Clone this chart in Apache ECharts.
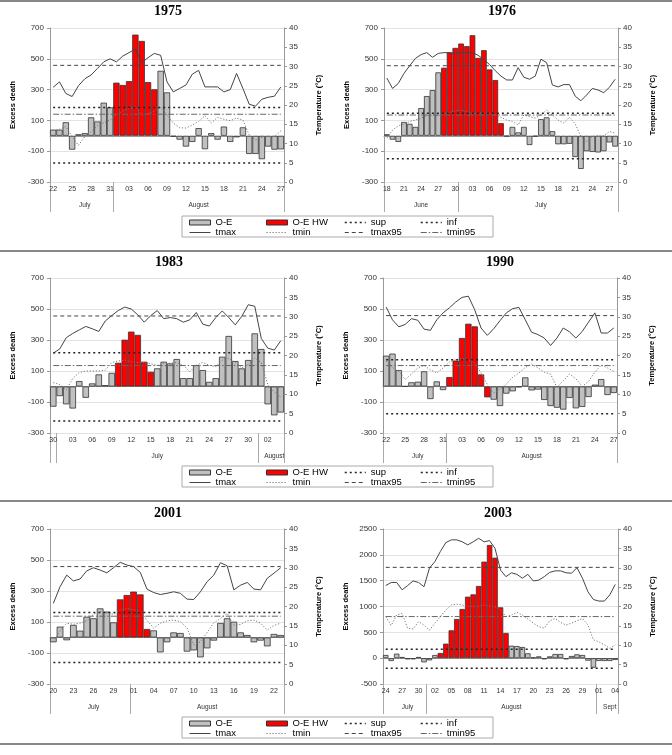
<!DOCTYPE html>
<html><head><meta charset="utf-8">
<script src="https://cdn.jsdelivr.net/npm/echarts@6/dist/echarts.min.js"></script>
<style>html,body{margin:0;padding:0;background:#fff}#c{width:672px;height:755px}</style>
</head><body><div id="c"></div>
<script>
// ---------------- DATA ----------------
const MONTH_NAMES = {'06':'June','07':'July','08':'August','09':'Sept'};
const legendRows = [['O-E','tmax'],['O-E HW','tmin'],['sup','tmax95'],['inf','tmin95']];

// 1975
const start1975 = [1975,7,22];
const hw1975 = ['1975-08-01','1975-08-07'];
const oe1975 = [40,40,88,-90,10,17,120,93,215,185,345,330,355,657,616,349,302,422,282,-5,-25,-70,-40,50,-87,17,-25,60,-40,-10,55,-118,-118,-152,-70,-90,-88];
const tmax1975 = [24.6,26,23,22.2,25,26.8,27.8,29.5,31.2,32,31.2,32.7,33.6,34.5,31,32.3,33.4,32.9,26,23.4,24.3,25.2,28,29,24.7,24.7,24.7,23.4,24,28.2,24.3,20.2,19.7,21.5,22,22.3,24.7];
const tmin1975 = [13.4,13.7,14.4,11.8,9.5,11.8,13.1,14.6,15.4,16.1,17.4,18.5,19.1,19.6,17.4,17.8,18.4,19.4,17.4,15.3,14.1,14,14.8,15.7,17.2,15.3,16.8,16.3,15.9,16.6,16.1,12.2,10.9,11.6,11.8,11.8,13.3];
const thr1975 = {sup:183, inf:-177, tmax95:30.3, tmin95:17.6};

// 1976
const start1976 = [1976,6,18];
const hw1976 = ['1976-06-28','1976-07-08'];
const oe1976 = [10,-25,-40,90,78,58,180,258,297,412,442,541,571,599,582,653,506,556,431,362,82,-3,58,22,58,-60,-4,108,120,30,-55,-55,-52,-138,-215,-100,-105,-108,-100,-43,-70];
const tmax1976 = [27,24.3,25.6,28.2,30.2,32.1,33.1,33.6,32.4,33.4,33.6,33.6,33.4,33.6,33.6,33.6,32.9,31.8,30.5,28.9,27.5,26.5,26.5,29.7,27.2,26.7,27.5,31.9,31,25.2,24.7,25.3,25.3,22.3,21.1,22.6,24.3,23.9,23.2,24.6,26.7];
const tmin1976 = [11.4,13.5,14.6,15.1,15.7,16.1,16.6,17.2,17.4,17.2,17.8,18,18.5,18.7,18.3,17.8,17.8,18,17.8,17.4,16.8,16.1,15.7,14.8,17.4,17,16.6,17.4,18.7,17.4,16.1,15.3,16.8,15.1,11.8,10.5,11.8,12,12,13.1,12.7];
const thr1976 = {sup:147, inf:-149, tmax95:30.2, tmin95:17.4};

// 1983
const start1983 = [1983,6,30];
const hw1983 = ['1983-07-10','1983-07-15'];
const oe1983 = [-130,-62,-115,-142,35,-73,20,78,9,88,153,302,354,333,160,95,117,160,149,177,54,54,138,106,30,54,192,326,164,117,171,343,242,-115,-186,-168];
const tmax1983 = [20.6,21.7,24.6,25.7,26.6,27.5,26.9,26.2,28.9,30.3,31.6,32.5,32,30.5,28.6,30.3,31.6,29.5,29.8,29.5,28.6,29.2,31.1,28.1,27.6,29.8,31.5,29.8,27.9,30.1,33.1,32.7,24.4,21.9,21.4,23.8];
const tmin1983 = [13,12.5,11.1,14.1,15.6,16,16,16,16.2,18.2,18.6,18.8,18.4,18.2,18.2,17.9,17.4,18,18,18.2,17.5,15.8,17.5,18.2,17.5,17.1,18.8,19.3,18.2,16.8,17.7,19.3,18.2,12.5,10.6,9.3];
const thr1983 = {sup:218, inf:-222, tmax95:30.2, tmin95:17.4};

// 1990
const start1990 = [1990,7,22];
const hw1990 = ['1990-08-01','1990-08-07'];
const oe1990 = [199,212,106,2,27,31,98,-81,33,-23,61,167,313,405,388,78,-70,-85,-126,-46,-31,-5,59,-25,-20,-87,-126,-137,-149,-74,-141,-132,-68,12,48,-55,-42];
const tmax1990 = [32.5,29.2,27.4,28,29.5,29.1,26.8,26.5,29.2,31,32.3,33.8,35,35.3,31.8,27.1,25.2,26.9,29,31,32.1,32.4,29.2,26,25.4,24.5,22.6,24.5,27.1,26.1,24.5,26.2,28.6,31,25.8,25.8,27.1];
const tmin1990 = [18.5,16.9,15.9,13.8,15.2,16.8,17.4,16.3,15.5,16.8,18.3,18.9,19.2,18.9,18.1,15.5,12.5,10.3,11.4,12.6,14.4,15.5,16.9,17.8,16.8,15.7,15.2,11.8,13.5,15.2,14,12,13.3,15.7,17.5,16.8,15.9];
const thr1990 = {sup:173, inf:-175, tmax95:30.3, tmin95:17.4};

// 2001
const start2001 = [2001,7,20];
const hw2001 = ['2001-07-30','2001-08-03'];
const oe2001 = [-31,70,-18,81,44,134,124,188,167,98,246,274,296,278,55,46,-96,-31,33,29,-91,-83,-128,-70,-20,94,124,102,33,16,-31,-20,-57,23,16];
const tmax2001 = [20.8,25.1,28.1,26.6,27.1,29.2,30,29.4,28.7,30,31.4,30.7,30.3,28.8,24.5,23.6,23.1,23.4,23.8,23.4,21.9,21.8,23.8,26.4,28.1,31.3,30.5,24.3,25.5,26.2,24.5,24.3,27.3,28.6,30];
const tmin2001 = [10.9,13.7,15.7,15.4,15.7,16.3,18,18.7,18.3,18,19.1,19.5,19.1,18.7,16.5,14.4,15.7,16.3,16.5,16.1,14.5,10.1,10.9,13.3,15.8,16.9,18.2,15.2,15.4,16.3,16.5,15.7,13.9,15.1,15.7];
const thr2001 = {sup:162, inf:-162, tmax95:30.3, tmin95:17.5};

// 2003
const start2003 = [2003,7,24];
const hw2003 = ['2003-08-03','2003-08-15'];
const oe2003 = [61,-55,87,23,-23,-23,23,-81,-42,61,100,281,539,758,952,1190,1235,1397,1868,2190,1945,984,487,242,235,216,94,16,35,-23,35,81,81,-23,42,74,61,-48,-184,-55,-55,-55,-35];
const tmax2003 = [25.4,26.2,26.2,24.3,25.4,26.6,26.2,25.1,29.9,31.6,34.2,36.5,37.2,37.2,36.7,35.9,36.7,37.6,36.7,37,35,29.4,27.7,28.7,28.3,27.3,28.3,26.6,26.8,27.7,28.8,29.2,29.2,28.7,28.6,30,27.3,23.8,21.8,21.4,21.4,23,25.7];
const tmin2003 = [17.4,15.1,17.8,18.2,14.4,14.2,16.1,15.2,13.9,15.7,17.4,19.1,20.4,20.6,20.4,20,20.1,20,20.4,20.1,20,19.1,17.4,17.8,18.5,17.8,16.8,15.7,14.8,14.4,16.3,16.9,15.9,15.2,15.7,16.3,16.9,15.2,11.4,10.9,10.1,9.2,10.1];
const thr2003 = {sup:171, inf:-197, tmax95:30.1, tmin95:17.4};

// left-axis scales
const excessAxis = {min:-300, max:700, interval:200};
const excessAxis2003 = {min:-500, max:2500, interval:500};
const tempAxis = {min:0, max:40, interval:5};

// ---------------- LAYOUT ----------------
const FONT = '"Liberation Sans", Arial, sans-serif';
const panels = [
  {title:'1975', start:start1975, hw:hw1975, oe:oe1975, tmax:tmax1975, tmin:tmin1975, thr:thr1975, ex:excessAxis,
   grid:{left:50,top:28,width:234,height:154}, tpos:[168,4]},
  {title:'1976', start:start1976, hw:hw1976, oe:oe1976, tmax:tmax1976, tmin:tmin1976, thr:thr1976, ex:excessAxis,
   grid:{left:384,top:28,width:234,height:154}, tpos:[502,4]},
  {title:'1983', start:start1983, hw:hw1983, oe:oe1983, tmax:tmax1983, tmin:tmin1983, thr:thr1983, ex:excessAxis,
   grid:{left:50,top:278,width:234,height:155}, tpos:[169,255]},
  {title:'1990', start:start1990, hw:hw1990, oe:oe1990, tmax:tmax1990, tmin:tmin1990, thr:thr1990, ex:excessAxis,
   grid:{left:383,top:278,width:234,height:155}, tpos:[500,255]},
  {title:'2001', start:start2001, hw:hw2001, oe:oe2001, tmax:tmax2001, tmin:tmin2001, thr:thr2001, ex:excessAxis,
   grid:{left:50,top:529,width:234,height:155}, tpos:[168,506]},
  {title:'2003', start:start2003, hw:hw2003, oe:oe2003, tmax:tmax2003, tmin:tmin2003, thr:thr2003, ex:excessAxis2003,
   grid:{left:383,top:529,width:235,height:155}, tpos:[498,506]}
];

function makeDays(start, n) {
  const out = [];
  const t0 = Date.UTC(start[0], start[1]-1, start[2]);
  for (let i = 0; i < n; i++) out.push(new Date(t0 + i*86400000).toISOString().slice(0,10));
  return out;
}

const option = {
  animation:false,
  textStyle:{fontFamily:FONT},
  title:[], grid:[], xAxis:[], yAxis:[], series:[], legend:[], graphic:[]
};

panels.forEach((p, g) => {
  const days = makeDays(p.start, p.oe.length);
  const n = days.length;
  option.grid.push(Object.assign({}, p.grid));
  option.title.push({text:p.title, left:p.tpos[0], top:p.tpos[1], textAlign:'center', padding:0,
    textStyle:{fontFamily:'"Liberation Serif", "Times New Roman", serif', fontWeight:'bold', fontSize:14, color:'#000'}});

  const xDay = option.xAxis.length;
  option.xAxis.push({type:'category', gridIndex:g, data:days, position:'bottom', boundaryGap:true,
    axisLine:{show:true, lineStyle:{color:'#999', width:1}}, axisTick:{show:false},
    axisLabel:{interval:2, formatter:v => v.slice(8), fontSize:7, color:'#333', margin:4},
    splitLine:{show:false}});

  const isStart = days.map((d,i) => i === 0 || d.slice(5,7) !== days[i-1].slice(5,7));
  const labelSet = new Set();
  let s = 0;
  for (let i = 1; i <= n; i++) {
    if (i === n || isStart[i]) {
      const len = i - s;
      if (len >= 2) labelSet.add(s + Math.floor(len/2));
      s = i;
    }
  }
  option.xAxis.push({type:'category', gridIndex:g, data:days, position:'bottom', boundaryGap:true,
    axisLine:{show:false},
    axisTick:{show:true, interval:(i) => isStart[i], length:30, lineStyle:{color:'#aaa', width:1}},
    axisLabel:{interval:(i) => labelSet.has(i), formatter:v => MONTH_NAMES[v.slice(5,7)], fontSize:6.5, color:'#333', margin:20},
    splitLine:{show:false}});

  const yL = option.yAxis.length;
  option.yAxis.push({type:'value', gridIndex:g, position:'left', min:p.ex.min, max:p.ex.max, interval:p.ex.interval,
    name:'Excess death', nameLocation:'middle', nameGap:33, nameRotate:90,
    nameTextStyle:{fontWeight:'bold', fontSize:7.5, color:'#000'},
    axisLine:{show:true, lineStyle:{color:'#999'}}, axisTick:{show:true, length:3, lineStyle:{color:'#999'}},
    axisLabel:{fontSize:8, color:'#333', margin:6, formatter:v => String(v)},
    splitLine:{show:true, lineStyle:{color:'#e3e3e3', width:1}}});
  const yR = option.yAxis.length;
  option.yAxis.push({type:'value', gridIndex:g, position:'right', min:tempAxis.min, max:tempAxis.max, interval:tempAxis.interval,
    name:'Temperature (°C)', nameLocation:'middle', nameGap:31, nameRotate:90,
    nameTextStyle:{fontWeight:'bold', fontSize:7.5, color:'#000'},
    axisLine:{show:true, lineStyle:{color:'#999'}}, axisTick:{show:true, length:3, lineStyle:{color:'#999'}},
    axisLabel:{fontSize:8, color:'#333', margin:5, formatter:v => String(v)},
    splitLine:{show:false}});

  const inHW = d => d >= p.hw[0] && d <= p.hw[1];
  option.series.push({name:'O-E', type:'bar', xAxisIndex:xDay, yAxisIndex:yL,
    data:p.oe.map((v,i) => inHW(days[i]) ? '-' : v), barGap:'-100%', barCategoryGap:'0%',
    itemStyle:{color:'#c0c0c0', borderColor:'#333', borderWidth:0.8}});
  option.series.push({name:'O-E HW', type:'bar', xAxisIndex:xDay, yAxisIndex:yL,
    data:p.oe.map((v,i) => inHW(days[i]) ? v : '-'), barGap:'-100%', barCategoryGap:'0%',
    itemStyle:{color:'#ff0000', borderColor:'#333', borderWidth:0.8}});
  option.series.push({name:'tmax', type:'line', xAxisIndex:xDay, yAxisIndex:yR, data:p.tmax,
    symbol:'none', lineStyle:{color:'#444', width:1}});
  option.series.push({name:'tmin', type:'line', xAxisIndex:xDay, yAxisIndex:yR, data:p.tmin,
    symbol:'none', lineStyle:{color:'#777', width:1, type:[1.2,1.8]}});
  const seg = v => [[0, v], [n-1, v]];
  option.series.push({name:'sup', type:'line', xAxisIndex:xDay, yAxisIndex:yL, data:seg(p.thr.sup),
    symbol:'none', lineStyle:{color:'#222', width:1.5, type:[2,3]}});
  option.series.push({name:'inf', type:'line', xAxisIndex:xDay, yAxisIndex:yL, data:seg(p.thr.inf),
    symbol:'none', lineStyle:{color:'#222', width:1.5, type:[2,3]}});
  option.series.push({name:'tmax95', type:'line', xAxisIndex:xDay, yAxisIndex:yR, data:seg(p.thr.tmax95),
    symbol:'none', lineStyle:{color:'#444', width:1, type:[4,3]}});
  option.series.push({name:'tmin95', type:'line', xAxisIndex:xDay, yAxisIndex:yR, data:seg(p.thr.tmin95),
    symbol:'none', lineStyle:{color:'#666', width:1, type:[6,2,1.5,2]}});
});

// legends (3 blocks x 4 columns)
const legendLeft = [189, 266, 344, 420];
const blockTop = [217.5, 467.5, 718.5];
const lineNames = ['tmax','tmin','sup','inf','tmax95','tmin95'];
blockTop.forEach(t => {
  legendRows.forEach((names, c) => {
    option.legend.push({
      data:names.map(nm => lineNames.includes(nm) ? {name:nm, itemStyle:{opacity:0}} : {name:nm, icon:'rect'}),
      orient:'vertical', left:legendLeft[c], top:t, padding:0, itemGap:0,
      itemWidth:21, itemHeight:5, selectedMode:false,
      itemStyle:{borderWidth:1},
      lineStyle:{width:'inherit'},
      textStyle:{fontSize:9.5, lineHeight:9, color:'#000', fontFamily:FONT}
    });
  });
});

// legend frames and section separators
[216, 466, 717].forEach(y => option.graphic.push({type:'rect', shape:{x:182, y:y, width:311, height:21},
  style:{fill:'none', stroke:'#aaa', lineWidth:1}, silent:true}));
[1, 251, 501, 744].forEach(y => option.graphic.push({type:'line', shape:{x1:0, y1:y, x2:672, y2:y},
  style:{stroke:'#888', lineWidth:2}, silent:true}));

const chart = echarts.init(document.getElementById('c'), null, {renderer:'canvas'});
chart.setOption(option);
</script>
</body></html>
